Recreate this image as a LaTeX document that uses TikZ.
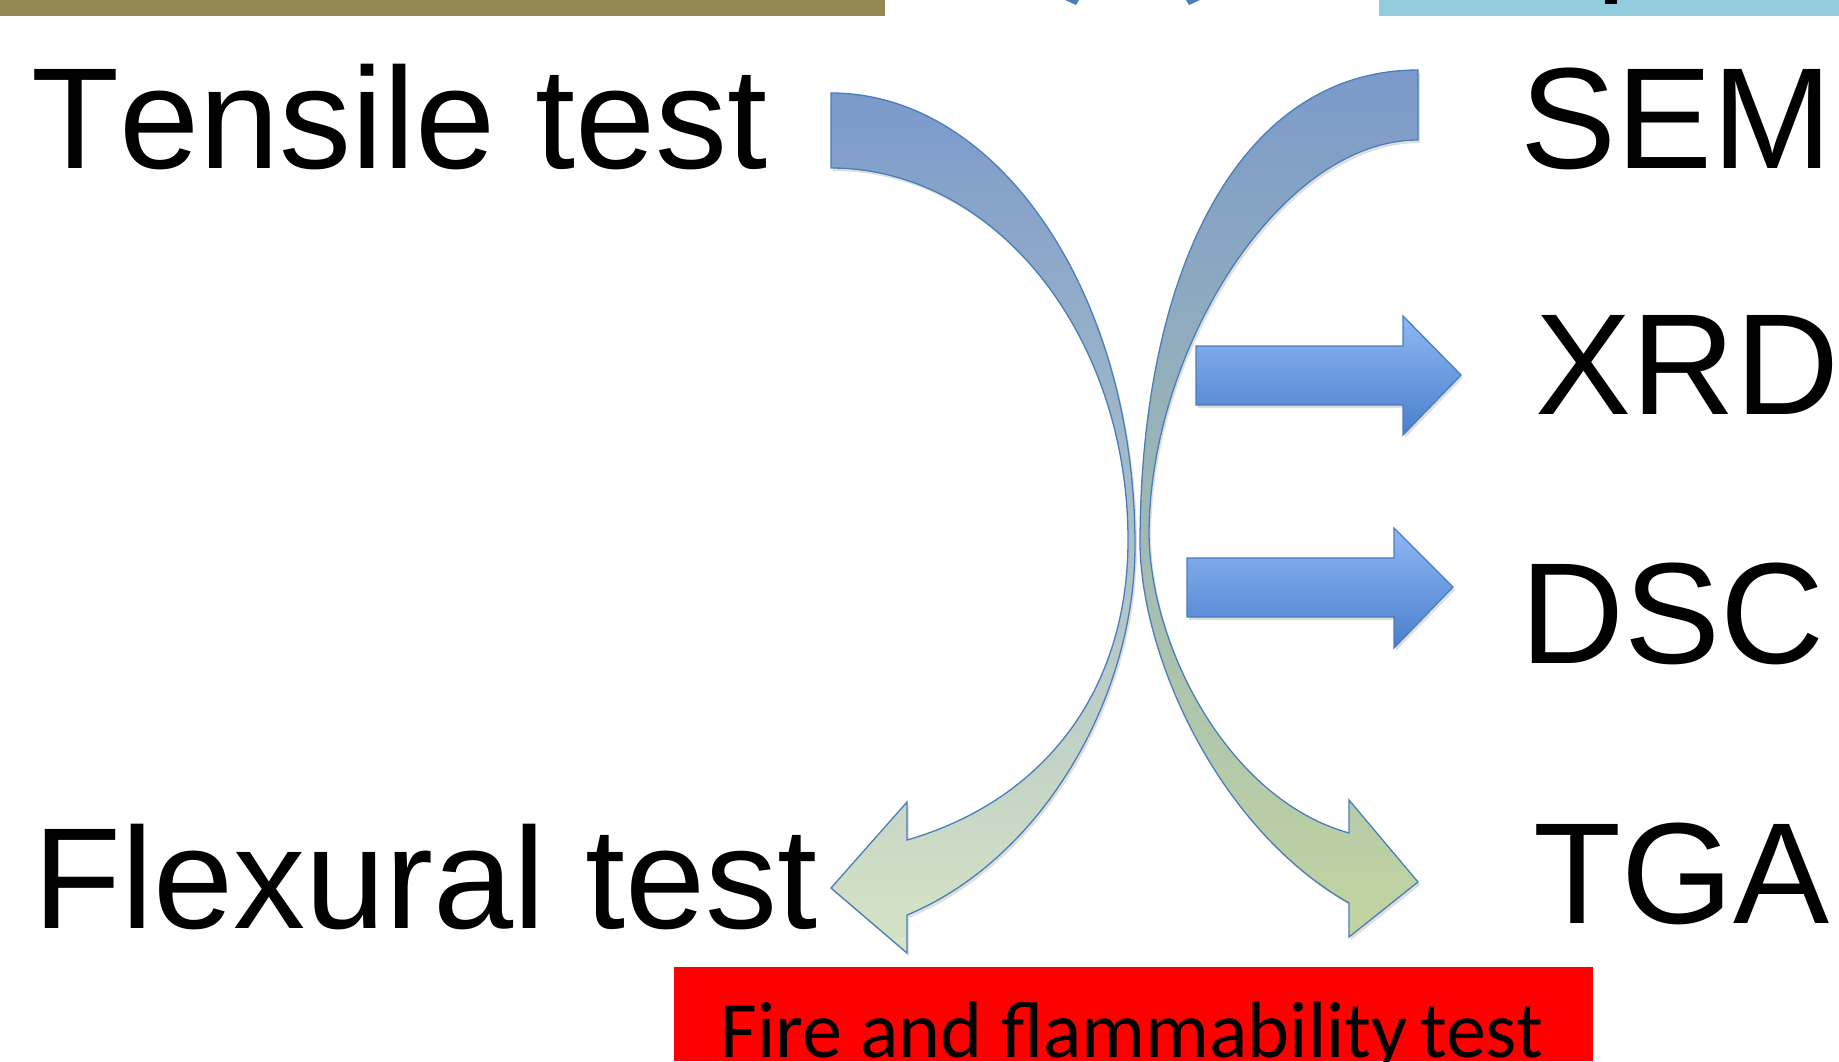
\documentclass[tikz,border=0pt]{standalone}
\usepackage{fontspec}
\setmainfont{Liberation Sans}[Kerning=Off]
\newfontfamily\calibfont{Carlito}
\usetikzlibrary{shadows}
\definecolor{barolive}{HTML}{938953}
\definecolor{barblue}{HTML}{93CDDD}
\definecolor{edgeblue}{HTML}{4A7EBB}
\definecolor{bandblue}{HTML}{7B9ACB}
\definecolor{bandmid}{HTML}{8CA6BC}
\definecolor{lightgreen}{HTML}{D7E4C4}
\definecolor{darkgreen}{HTML}{C2D5A0}
\definecolor{arrtop}{HTML}{8FB7F5}
\definecolor{arrbot}{HTML}{4A7FCB}
\tikzset{
  lbl/.style={font=\fontsize{144}{144}\selectfont, inner sep=0pt, anchor=base west},
  shadowed/.style={drop shadow={opacity=0.25, shadow xshift=2pt, shadow yshift=-3pt}},
  curvl/.style={draw=edgeblue, line width=1.3pt, shadowed, top color=bandblue, middle color=bandmid, bottom color=lightgreen},
  curvr/.style={draw=edgeblue, line width=1.3pt, shadowed, top color=bandblue, middle color=bandmid, bottom color=darkgreen},
  blockarrow/.style={draw=edgeblue, line width=1.3pt, shadowed, top color=arrtop, bottom color=arrbot}
}
\begin{document}
\begin{tikzpicture}[x=1pt,y=-1pt]
\useasboundingbox (0,0) rectangle (1839,1061);
% top bars
\fill[barolive] (0,0) rectangle (885,16);
\fill[barblue] (1379,0) rectangle (1839,16);
\fill[black] (1605,0) rectangle (1617,4);
\fill[edgeblue] (1065,0) -- (1079,0) -- (1076,5) -- cycle;
\fill[edgeblue] (1186,0) -- (1200,0) -- (1189,5) -- cycle;
% left curved arrow
\path[curvl] (831,93) .. controls (999,93) and (1135,295) .. (1135,545)
  .. controls (1135,700) and (1040,860) .. (907,915)
  -- (907,953) -- (831,888) -- (907,802) -- (907,840)
  .. controls (1045,800) and (1128,690) .. (1128,540)
  .. controls (1128,335) and (995,168) .. (831,168) -- cycle;
% right curved arrow
\path[curvr] (1418,70) .. controls (1240,70) and (1140,270) .. (1140,545)
  .. controls (1142,660) and (1220,830) .. (1349,903)
  -- (1349,937) -- (1418,882) -- (1349,800) -- (1349,833)
  .. controls (1230,800) and (1151,650) .. (1149,535)
  .. controls (1149,350) and (1280,140) .. (1418,140) -- cycle;
% straight arrows
\path[blockarrow] (1196,346) -- (1403,346) -- (1403,316) -- (1461,375) -- (1403,435) -- (1403,405) -- (1196,405) -- cycle;
\path[blockarrow] (1187,558) -- (1394,558) -- (1394,528) -- (1453,587) -- (1394,648) -- (1394,617) -- (1187,617) -- cycle;
% red box
\fill[red] (674,967) rectangle (1593,1061);
\node[inner sep=0pt, anchor=base] (fire) at (1132,1057) {\calibfont\fontsize{80}{80}\selectfont Fire and flammability\hspace{-6pt} test};
% labels
\node[lbl] (tensile) at (31,168) {Tensile test};
\node[lbl] (flexural) at (33,928) {Flexural test};
\node[lbl] (sem) at (1520,168) {SEM};
\node[lbl] (xrd) at (1535,414) {XRD};
\node[lbl] (dsc) at (1520,663) {DSC};
\node[lbl] (tga) at (1533,923) {TGA};
\end{tikzpicture}
\end{document}
